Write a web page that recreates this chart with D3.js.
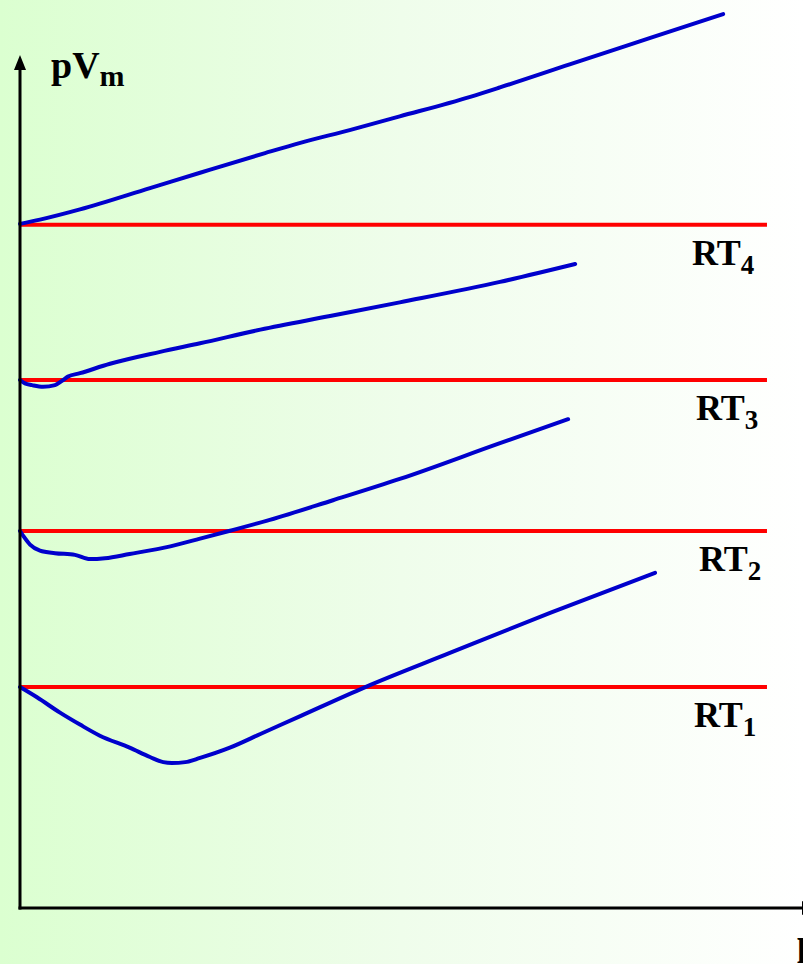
<!DOCTYPE html>
<html>
<head>
<meta charset="utf-8">
<script src="https://cdn.jsdelivr.net/npm/d3@7"></script>
<style>
  html, body { margin: 0; padding: 0; overflow: hidden; }
  svg { display: block; }
  text { font-family: "Liberation Serif", "Times New Roman", serif; font-weight: bold; fill: #000; }
</style>
</head>
<body>
<svg id="chart" width="803" height="964"></svg>
<script>
// Isotherms of pV_m against p for four temperatures T1 < T2 < T3 < T4 (arbitrary units)
const temperatures = ["1", "2", "3", "4"];

// ideal-gas level RT for each temperature
const rtLevels = [25.9, 44.2, 61.9, 80.1];

// pressure samples and pV_m values for each real-gas isotherm
const p1 = [0, 2.17, 5.11, 7.66, 10.2, 14.0, 16.6, 18.3, 19.4, 21.1, 23.0, 26.8, 30.7, 35.8, 44.1, 54.9, 67.7, 81.1];
const pv1 = [25.9, 24.7, 22.9, 21.5, 20.2, 18.8, 17.7, 17.1, 17.0, 17.1, 17.6, 18.8, 20.4, 22.5, 25.9, 29.9, 34.6, 39.3];

const p2 = [0, 0.51, 1.28, 2.55, 4.47, 7.02, 8.94, 10.85, 14.0, 19.2, 23.0, 26.7, 31.9, 39.97, 48.5, 61.3, 70.0];
const pv2 = [44.2, 43.5, 42.6, 41.9, 41.6, 41.4, 40.9, 41.0, 41.5, 42.4, 43.3, 44.2, 45.5, 47.8, 50.3, 54.5, 57.3];

const p3 = [0, 0.64, 1.53, 2.94, 4.47, 5.36, 6.13, 7.66, 11.5, 17.9, 23.0, 30.7, 39.6, 48.5, 61.3, 70.9];
const pv3 = [61.9, 61.5, 61.3, 61.1, 61.3, 61.8, 62.3, 62.7, 63.8, 65.2, 66.2, 67.8, 69.4, 71.0, 73.4, 75.5];

const p4 = [0, 2.55, 7.66, 16.6, 23.0, 31.3, 35.8, 42.1, 48.5, 57.5, 61.3, 70.2, 80.5, 89.8];
const pv4 = [80.2, 80.7, 81.9, 84.4, 86.2, 88.5, 89.7, 91.2, 92.8, 95.1, 96.2, 98.9, 102.0, 104.8];

const rtLineEnd = 95.4;

const W = 803, H = 964;
const svg = d3.select("#chart");

// background wash, pale green fading to white
const defs = svg.append("defs");
const grad = defs.append("linearGradient").attr("id", "bg").attr("x1", "0").attr("x2", "1").attr("y1", "0").attr("y2", "0");
grad.append("stop").attr("offset", "0").attr("stop-color", "#dbffd0");
grad.append("stop").attr("offset", "0.5").attr("stop-color", "#effdeb");
grad.append("stop").attr("offset", "1").attr("stop-color", "#ffffff");
svg.append("rect").attr("width", W).attr("height", H).attr("fill", "url(#bg)");

const x = d3.scaleLinear().domain([0, 100]).range([20, 803]);
const y = d3.scaleLinear().domain([0, 100]).range([908, 55]);

const line = d3.line().x(d => x(d[0])).y(d => y(d[1])).curve(d3.curveMonotoneX);

// RT reference levels
svg.append("g").selectAll("line").data(rtLevels).join("line")
  .attr("x1", x(0)).attr("x2", x(rtLineEnd))
  .attr("y1", d => y(d)).attr("y2", d => y(d))
  .attr("stroke", "#ff0000").attr("stroke-width", 4);

// isotherms
const curves = [[p1, pv1], [p2, pv2], [p3, pv3], [p4, pv4]];
svg.append("g").selectAll("path").data(curves).join("path")
  .attr("d", c => line(c[0].map((p, i) => [p, c[1][i]])))
  .attr("fill", "none").attr("stroke", "#0000cc").attr("stroke-width", 4)
  .attr("stroke-linecap", "round").attr("stroke-linejoin", "round");

// axes with arrowheads
const ax = svg.append("g");
ax.append("line").attr("x1", x(0)).attr("x2", x(0)).attr("y1", y(0) + 1.5).attr("y2", y(100) + 12)
  .attr("stroke", "#000").attr("stroke-width", 3);
ax.append("path").attr("d", `M${x(0)},${y(100)} L${x(0) - 6},${y(100) + 15} L${x(0) + 6},${y(100) + 15} Z`).attr("fill", "#000");
ax.append("line").attr("x1", x(0) - 1.5).attr("x2", x(100)).attr("y1", y(0)).attr("y2", y(0))
  .attr("stroke", "#000").attr("stroke-width", 3);
ax.append("path").attr("d", `M${x(100) - 1},${y(0) - 7} L${x(100) + 15},${y(0)} L${x(100) - 1},${y(0) + 7} Z`).attr("fill", "#000");

// axis titles
const yt = svg.append("text").attr("x", 51).attr("y", 78).style("font-size", "38px");
yt.append("tspan").text("pV");
yt.append("tspan").attr("dy", 8).style("font-size", "30px").text("m");
svg.append("text").attr("x", 797).attr("y", 955).style("font-size", "36px").text("p");

// RT labels
const labelX = [694, 699, 696, 692];
svg.append("g").selectAll("text").data(rtLevels).join("text")
  .attr("x", (d, i) => labelX[i]).attr("y", d => y(d) + 40)
  .style("font-size", "36px")
  .each(function (d, i) {
    const t = d3.select(this);
    t.append("tspan").text("RT");
    t.append("tspan").attr("dy", 9).style("font-size", "27px").text(temperatures[i]);
  });
</script>
</body>
</html>
